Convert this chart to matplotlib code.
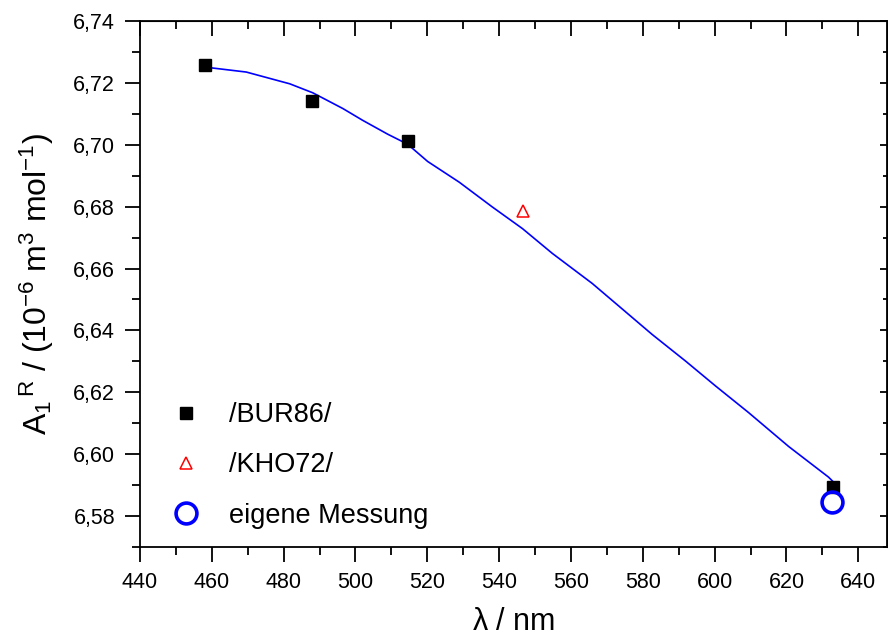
import numpy as np
import matplotlib
matplotlib.use('Agg')
import matplotlib.pyplot as plt
from matplotlib.ticker import MultipleLocator, FuncFormatter

plt.rcParams['font.family'] = ['Liberation Sans', 'DejaVu Sans']
plt.rcParams['mathtext.fontset'] = 'custom'
plt.rcParams['mathtext.rm'] = 'Liberation Sans'
plt.rcParams['mathtext.it'] = 'Liberation Sans'

# data
bur_wl = [458.0, 488.0, 514.5, 633.0]
bur_a = [6.7259, 6.7140, 6.7012, 6.5895]
kho_wl = [546.7]
kho_a = [6.6787]
own_wl = [632.8]
own_a = [6.5845]

# fitted curve (blue line)
fit_wl = [458.1, 469.6, 481.7, 488.1, 496.5, 502.0, 509.0, 514.5, 520.1, 528.9,
          538.1, 546.5, 554.8, 565.9, 573.8, 582.6, 591.9, 600.2, 609.4,
          620.6, 631.7, 633.1]
fit_a = [6.7251, 6.7235, 6.7197, 6.7168, 6.7117, 6.7079, 6.7034, 6.7002, 6.6946, 6.6879,
         6.6799, 6.6729, 6.6649, 6.6552, 6.6474, 6.6387, 6.6301, 6.6221, 6.6135,
         6.6025, 6.5926, 6.5910]

fig = plt.figure(figsize=(8.88, 6.37), dpi=100)
ax = fig.add_axes([140/888, 1-547/637, 747/888, 526/637])

ax.plot(fit_wl, fit_a, color='#0000ff', lw=1.2, zorder=2)
ax.plot(bur_wl, bur_a, ls='none', marker='s', ms=8.5, color='black', label='/BUR86/', zorder=3)
ax.plot(kho_wl, kho_a, ls='none', marker='^', ms=9, mfc='none', mec='red', mew=1.1, label='/KHO72/', zorder=3)
ax.plot(own_wl, own_a, ls='none', marker='o', ms=15, mfc='none', mec='#0000ff', mew=2.6, label='eigene Messung', zorder=3)

ax.set_xlim(440, 648)
ax.set_ylim(6.57, 6.74)

ax.xaxis.set_major_locator(MultipleLocator(20))
ax.xaxis.set_minor_locator(MultipleLocator(10))
ax.yaxis.set_major_locator(MultipleLocator(0.02))
ax.yaxis.set_minor_locator(MultipleLocator(0.01))
ax.yaxis.set_major_formatter(FuncFormatter(lambda v, p: ('%.2f' % v).replace('.', ',')))

for s in ax.spines.values():
    s.set_linewidth(1.3)
ax.tick_params(which='major', direction='out', length=11, width=1.3, labelsize=15.5, pad=7)
ax.tick_params(which='minor', direction='out', length=6, width=1.3)

# inward ticks on top and right
top = ax.secondary_xaxis('top')
top.xaxis.set_major_locator(MultipleLocator(20))
top.xaxis.set_minor_locator(MultipleLocator(10))
top.tick_params(which='major', direction='in', length=11, width=1.3, labeltop=False)
top.tick_params(which='minor', direction='in', length=6, width=1.3)
right = ax.secondary_yaxis('right')
right.yaxis.set_major_locator(MultipleLocator(0.02))
right.yaxis.set_minor_locator(MultipleLocator(0.01))
right.tick_params(which='major', direction='in', length=5, width=1.3, labelright=False)
right.tick_params(which='minor', direction='in', length=3, width=1.3)

ax.set_xlabel(r'$\lambda$ / nm', fontsize=22, labelpad=10)
ax.set_ylabel(r'A$_1$$^{\,R}$ / (10$^{-6}$ m$^3$ mol$^{-1}$)', fontsize=23, labelpad=12)

ax.legend(frameon=False, loc='lower left', bbox_to_anchor=(-0.004, -0.017), fontsize=19.5,
          handletextpad=0.8, labelspacing=0.9, borderpad=0.5, handlelength=1.6)

fig.savefig('out.png', dpi=100)
